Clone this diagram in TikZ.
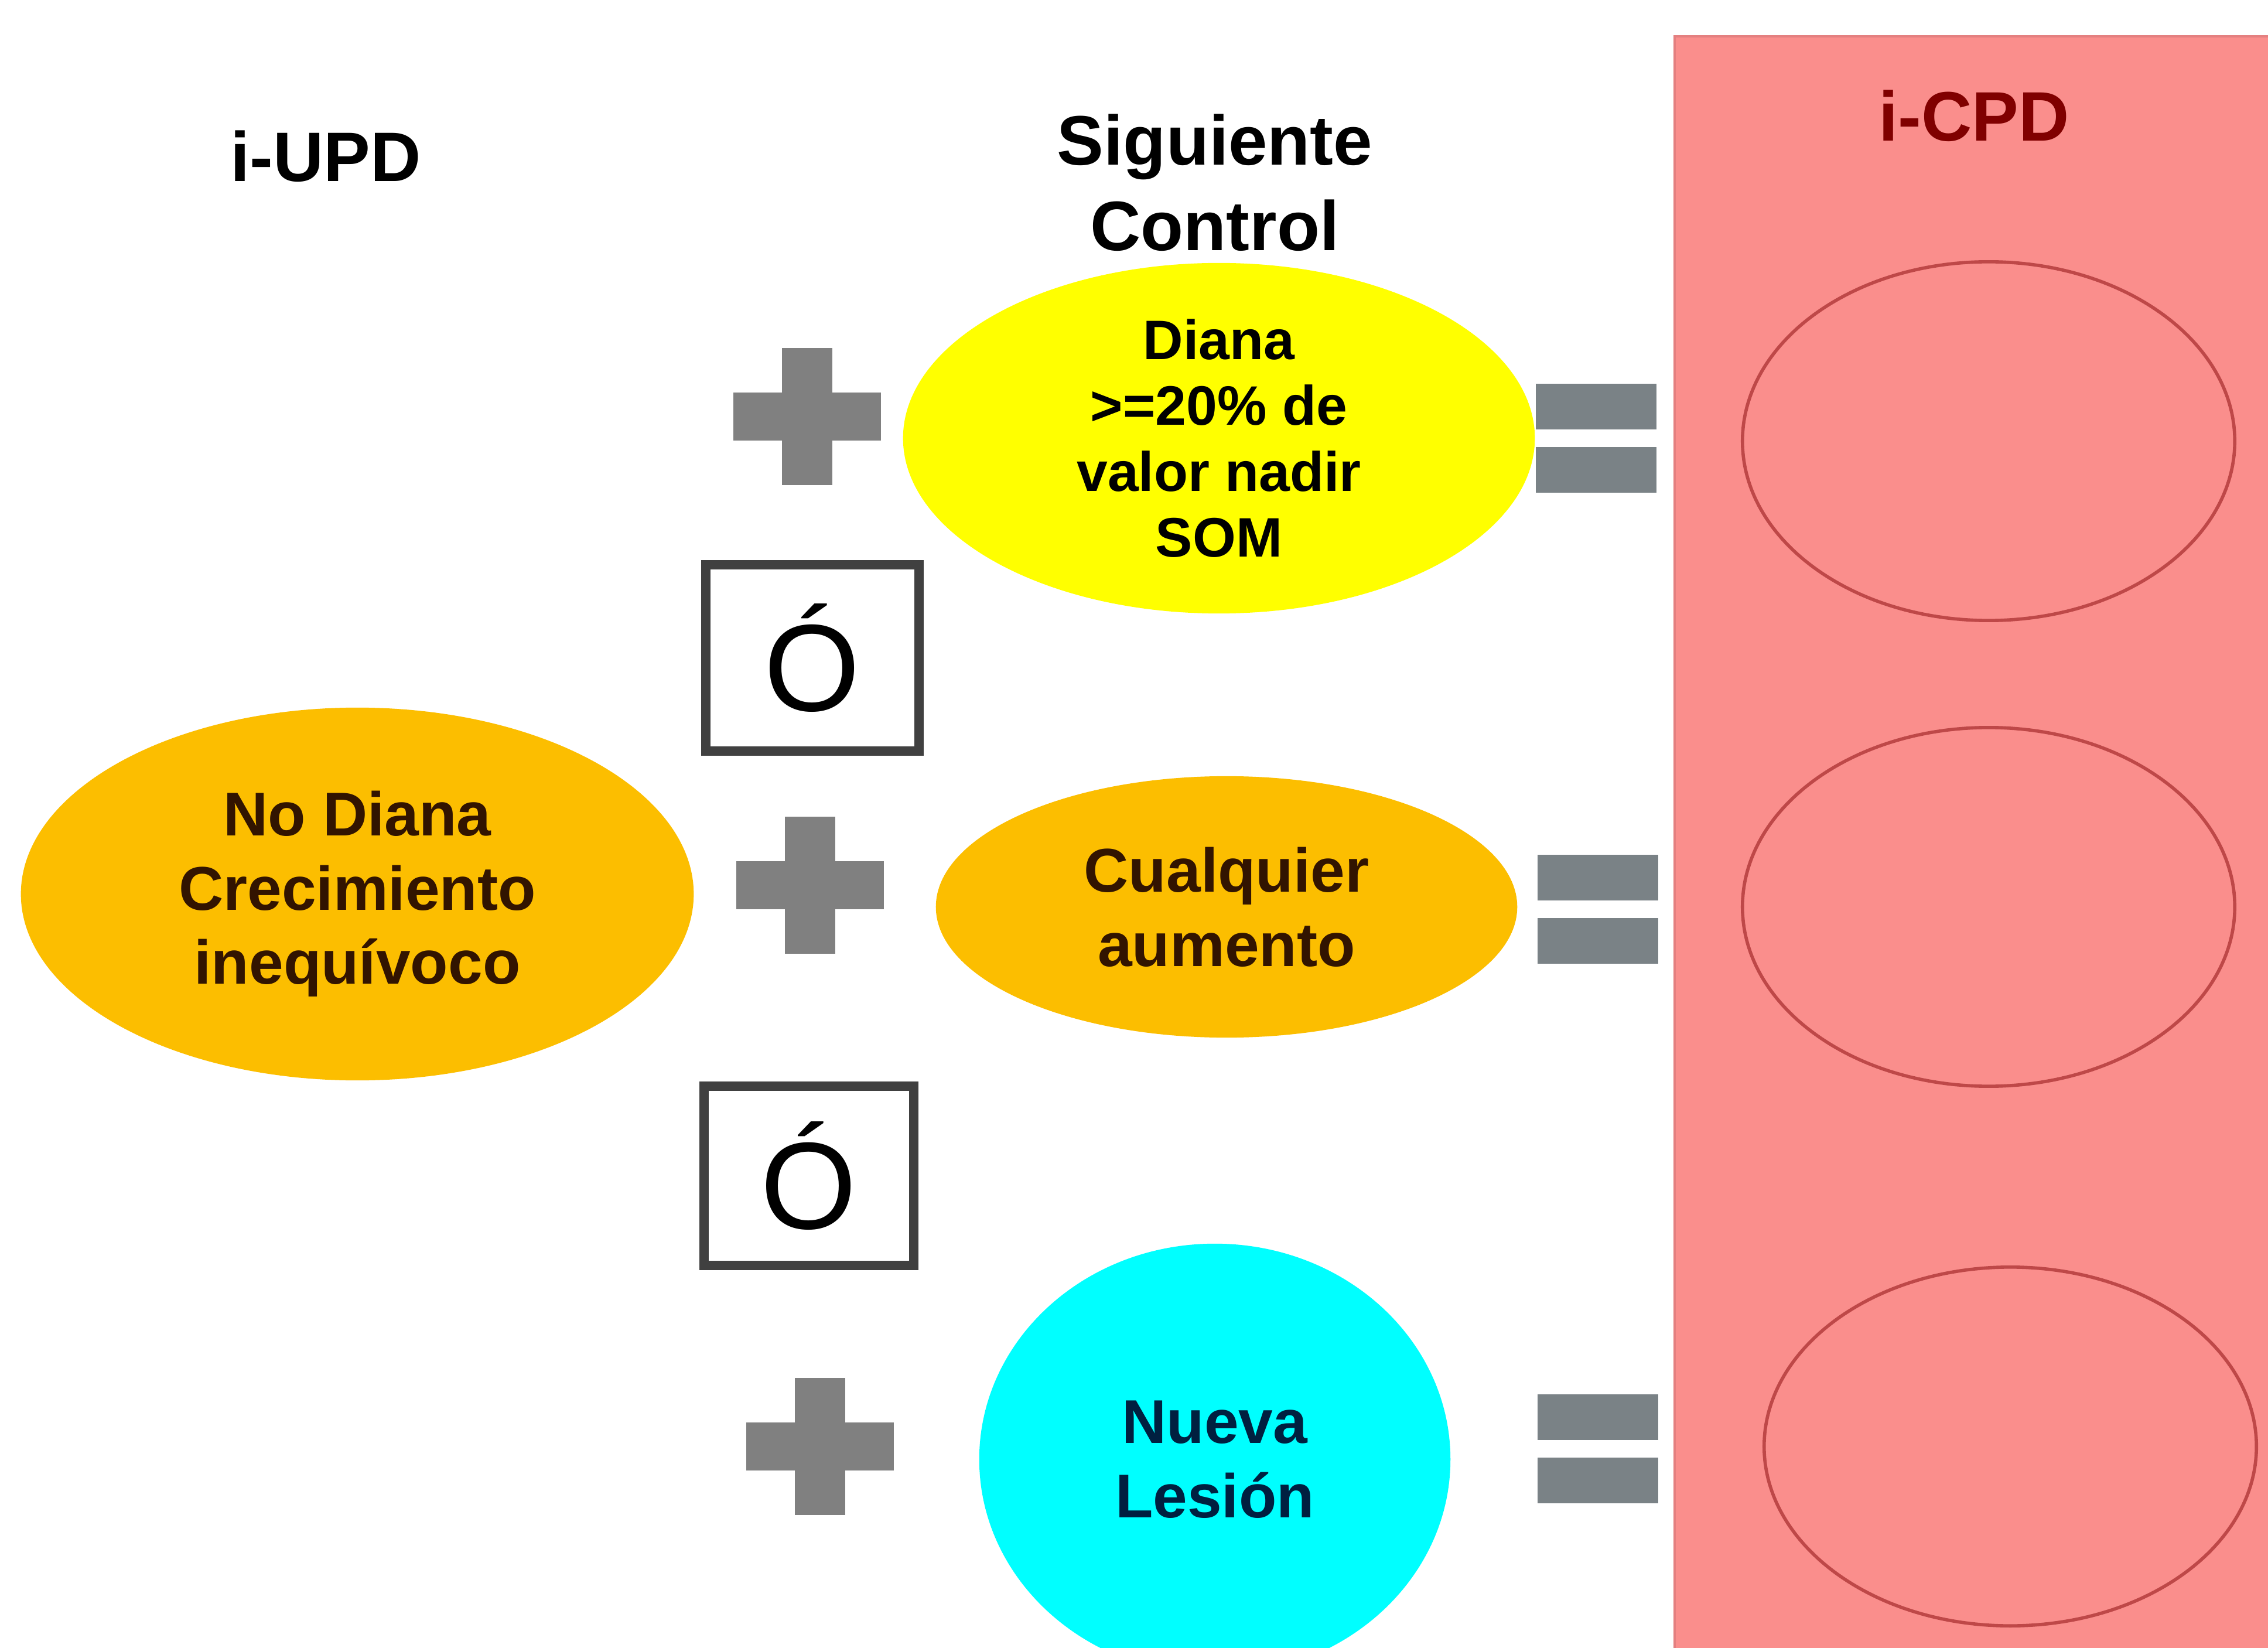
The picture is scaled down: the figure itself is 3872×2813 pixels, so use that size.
\documentclass[tikz,border=0pt]{standalone}
\usepackage{fontspec}
\setmainfont{Liberation Sans}
\usetikzlibrary{shapes.geometric}
\definecolor{pinkbg}{RGB}{250,142,140}
\definecolor{pinkline}{RGB}{190,72,72}
\definecolor{darkred}{RGB}{128,0,0}
\definecolor{gold}{RGB}{252,190,0}
\definecolor{yell}{RGB}{255,255,0}
\definecolor{cyanf}{RGB}{0,255,255}
\definecolor{plusgray}{RGB}{128,128,128}
\definecolor{eqgray}{RGB}{122,130,134}
\definecolor{boxgray}{RGB}{64,64,64}
\definecolor{browntxt}{RGB}{50,20,0}
\definecolor{navytxt}{RGB}{0,32,64}
\tikzset{
  blob/.style={ellipse, inner sep=0pt, draw=none},
  ringshape/.style={ellipse, inner sep=0pt, draw=pinkline, line width=1.6pt, minimum width=8.4cm, minimum height=6.12cm},
  lbl/.style={align=center, font=\fontsize{30}{36}\selectfont\bfseries, inner sep=0pt},
  smalllbl/.style={align=center, font=\fontsize{27}{32}\selectfont\bfseries, inner sep=0pt},
  head/.style={align=center, font=\fontsize{34}{41.5}\selectfont\bfseries, inner sep=0pt},
  orbox/.style={draw=boxgray, line width=4.5pt, fill=white, inner sep=0pt, font=\fontsize{60}{60}\selectfont},
  plussign/.pic={
    \fill[plusgray] (-126,-41) rectangle (126,41);
    \fill[plusgray] (-43,-117) rectangle (43,117);
  },
  equalsign/.pic={
    \fill[eqgray] (-103,-93) rectangle (103,-15);
    \fill[eqgray] (-103,15) rectangle (103,93);
  }
}
\begin{document}
\begin{tikzpicture}[x=0.01cm,y=-0.01cm]
\useasboundingbox (0,0) rectangle (3872,2813);
\clip (0,0) rectangle (3872,2813);
\fill[white] (0,0) rectangle (3872,2813);
% pink column
\filldraw[fill=pinkbg, draw={rgb,255:red,228;green,128;blue,128}, line width=1pt] (2859,62) rectangle (3900,2850);
\node[text=darkred, head] (icpd) at (3370,198) {i-CPD};
\node[ringshape] (r1) at (3395,753) {};
\node[ringshape] (r2) at (3395,1548) {};
\node[ringshape] (r3) at (3432,2469) {};
% headings
\node[head] (iupd) at (556,267) {i-UPD};
\node[head] (sig) at (2074,312) {Siguiente\\Control};
% yellow ellipse
\node[blob, fill=yell, minimum width=10.78cm, minimum height=5.98cm] (diana) at (2081,748) {};
\node[smalllbl] (dianat) at (diana) {Diana\\>=20\% de\\valor nadir\\SOM};
% left orange
\node[blob, fill=gold, minimum width=11.48cm, minimum height=6.36cm] (nodiana) at (610,1526) {};
\node[lbl, text=browntxt] (nodianat) at (nodiana) {No Diana\\Crecimiento\\inequívoco};
% middle orange
\node[blob, fill=gold, minimum width=9.92cm, minimum height=4.46cm] (cual) at (2094,1548) {};
\node[lbl, text=browntxt] (cualt) at (cual) {Cualquier\\aumento};
% cyan
\node[blob, fill=cyanf, minimum width=8.04cm, minimum height=7.36cm] (nueva) at (2074,2491) {};
\node[lbl, text=navytxt] (nuevat) at (nueva) {Nueva\\Lesión};
% O boxes
\node[orbox, minimum width=3.64cm, minimum height=3.18cm] (o1) at (1387,1123) {Ó};
\node[orbox, minimum width=3.58cm, minimum height=3.06cm] (o2) at (1381,2007) {Ó};
% plus signs
\pic at (1378,711) {plussign};
\pic at (1383,1511) {plussign};
\pic at (1400,2469) {plussign};
% equal signs
\pic at (2725,748) {equalsign};
\pic at (2728,1552) {equalsign};
\pic at (2728,2473) {equalsign};
\end{tikzpicture}
\end{document}
